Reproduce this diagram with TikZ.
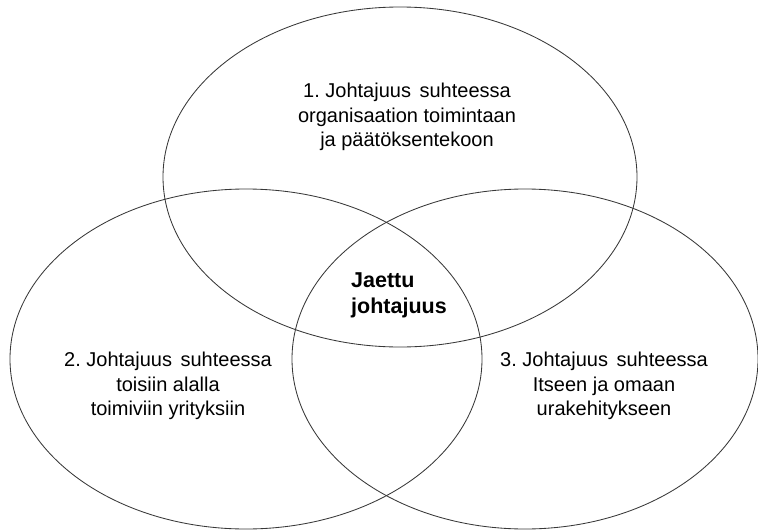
\documentclass[tikz,border=0pt]{standalone}
\usepackage{fontspec}
\setmainfont{Liberation Sans}
\usetikzlibrary{shapes.geometric}
\newcommand{\wsp}{\ \hspace{3pt}}
\begin{document}
\frenchspacing
\begin{tikzpicture}[x=1pt,y=-1pt,
  circ/.style={ellipse, draw=black!78, line width=0.85pt, inner sep=0pt,
    minimum width=#1},
  circ/.default=472pt,
  label/.style={align=center, inner sep=0pt, font=\fontsize{20}{24.5}\selectfont},
  core/.style={align=left, inner sep=0pt, font=\fontsize{21.5}{26}\selectfont\bfseries}]
  \useasboundingbox (0,0) rectangle (758,530);
  % three overlapping areas of leadership
  \node[circ=474pt, minimum height=340pt] (org) at (400,177) {};
  \node[circ=472pt, minimum height=340pt] (peers) at (246,359) {};
  \node[circ=466pt, minimum height=340pt] (self) at (525,359) {};
  % captions
  \node[label] (torg) at (407,117) {1. Johtajuus\wsp suhteessa\\organisaation toimintaan\\ja päätöksentekoon};
  \node[label] (tpeers) at (168,386) {2. Johtajuus\wsp suhteessa\\toisiin alalla\\toimiviin yrityksiin};
  \node[label] (tself) at (604,386) {3. Johtajuus\wsp suhteessa\\Itseen ja omaan\\urakehitykseen};
  \node[core, anchor=west] (shared) at (351,295) {Jaettu\\johtajuus};
\end{tikzpicture}
\end{document}
